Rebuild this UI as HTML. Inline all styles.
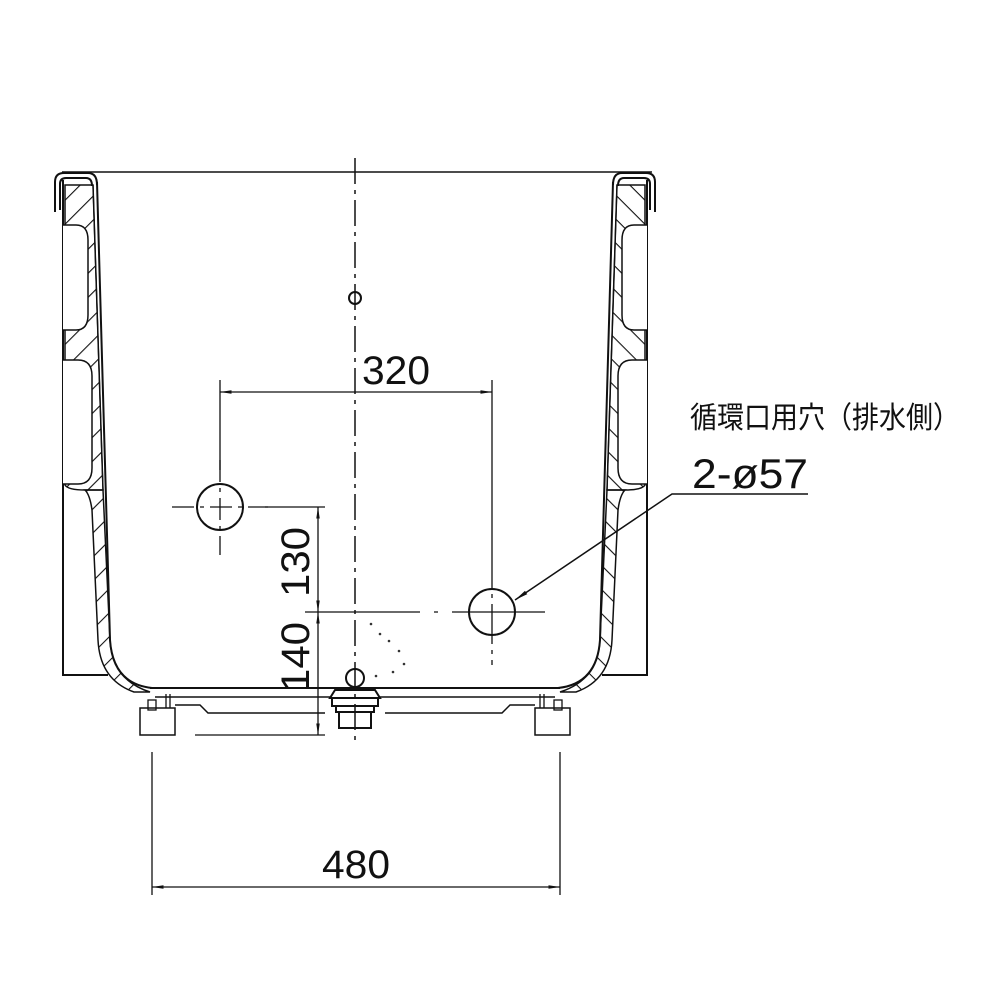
<!DOCTYPE html>
<html><head><meta charset="utf-8"><style>html,body{margin:0;padding:0;background:#fff}svg{display:block}</style></head>
<body>
<svg width="1000" height="1000" viewBox="0 0 1000 1000" xmlns="http://www.w3.org/2000/svg">
<defs>
<pattern id="h" patternUnits="userSpaceOnUse" width="17" height="17" patternTransform="rotate(45)">
<line x1="0" y1="0" x2="0" y2="17" stroke="#111" stroke-width="2.2"/>
</pattern>
<marker id="a" viewBox="0 0 10 10" refX="10" refY="5" markerWidth="9" markerHeight="9" orient="auto-start-reverse"><path d="M0,3.5 L10,5 L0,6.5 z" fill="#111"/></marker>
</defs>
<g fill="none" stroke="#111" stroke-width="2">
<line x1="62" y1="172" x2="652" y2="172" stroke-width="1.5"/>
<g id="L">
<polyline points="63,180 63,675 108,675"/>
<path d="M55,212 L55,182 Q55,173 64,173 L88,173 Q97,173 97,185"/>
<path d="M60,210 L60,184 Q60,178 66,178 L86,178 Q92,178 92,186"/>
<path d="M65,185 L93,185 L103,490 L85,490 Q68,490 65,485 Z" fill="url(#h)" stroke-width="1.5"/>
<path d="M63,225 L76,225 Q88,225 88,240 L88,315 Q88,330 76,330 L63,330 Z" fill="#fff" stroke="none"/>
<path d="M63,225 L76,225 Q88,225 88,240 L88,315 Q88,330 76,330 L63,330" stroke-width="1.5"/>
<path d="M63,360 L78,360 Q92,360 92,376 L92,468 Q92,484 78,484 L63,484 Z" fill="#fff" stroke="none"/>
<path d="M63,360 L78,360 Q92,360 92,376 L92,468 Q92,484 78,484 L63,484" stroke-width="1.5"/>
<path d="M85,490 L103,490 L110,640 Q112,680 150,692 L134,692 Q100,680 98,640 L92,510 Q90,495 85,490 Z" fill="url(#h)" stroke-width="1.5"/>
<path d="M97,182 L110,640 Q113,684 152,688"/>
<path d="M93,185 L103,490" stroke-width="1.3"/>
<rect x="140" y="708" width="35" height="27" stroke-width="1.5"/>
<rect x="148" y="700" width="8" height="10" stroke-width="1.3"/>
<line x1="166" y1="694" x2="166" y2="708" stroke-width="1.3"/>
<line x1="170" y1="694" x2="170" y2="708" stroke-width="1.3"/>
</g>
<use href="#L" transform="translate(710,0) scale(-1,1)"/>
<line x1="150" y1="688" x2="560" y2="688"/>
<line x1="155" y1="697" x2="555" y2="697" stroke-width="1.5"/>
<polyline points="175,705 200,705 208,713 325,713" stroke-width="1.5"/>
<polyline points="535,705 510,705 502,713 385,713" stroke-width="1.5"/>
<circle cx="355" cy="678" r="9"/>
<path d="M330,698 L335,690 L375,690 L380,698 Z" fill="#fff"/>
<rect x="332" y="698" width="46" height="8" fill="#fff"/>
<rect x="336" y="706" width="38" height="6"/>
<rect x="339" y="712" width="32" height="16"/>
<circle cx="355" cy="298" r="6"/>
<line x1="355" y1="158" x2="355" y2="745" stroke-width="1.5" stroke-dasharray="26,6,4,6"/>
<circle cx="220" cy="507" r="23"/>
<line x1="172" y1="507" x2="268" y2="507" stroke-width="1.3" stroke-dasharray="22,6,4,6"/>
<line x1="220" y1="460" x2="220" y2="555" stroke-width="1.3" stroke-dasharray="22,6,4,6"/>
<circle cx="492" cy="612" r="23"/>
<line x1="305" y1="612" x2="545" y2="612" stroke-width="1.3" stroke-dasharray="115,14,4,14"/>
<line x1="492" y1="548" x2="492" y2="665" stroke-width="1.3" stroke-dasharray="40,6,4,6"/>
<line x1="220" y1="380" x2="220" y2="470" stroke-width="1.3"/>
<line x1="492" y1="380" x2="492" y2="548" stroke-width="1.3"/>
<line x1="220" y1="392" x2="492" y2="392" stroke-width="1.3" marker-start="url(#a)" marker-end="url(#a)"/>
<line x1="265" y1="507" x2="325" y2="507" stroke-width="1.3"/>
<line x1="318" y1="507" x2="318" y2="612" stroke-width="1.3" marker-start="url(#a)" marker-end="url(#a)"/>
<line x1="318" y1="612" x2="318" y2="735" stroke-width="1.3" marker-start="url(#a)" marker-end="url(#a)"/>
<line x1="195" y1="735" x2="325" y2="735" stroke-width="1.3"/>
<line x1="152" y1="752" x2="152" y2="895" stroke-width="1.3"/>
<line x1="560" y1="752" x2="560" y2="895" stroke-width="1.3"/>
<line x1="152" y1="887" x2="560" y2="887" stroke-width="1.3" marker-start="url(#a)" marker-end="url(#a)"/>
<polyline points="808,494 672,494 515,600" stroke-width="1.5" marker-end="url(#a)"/>
</g>
<g fill="#333">
<circle cx="371" cy="624" r="1.3"/><circle cx="380" cy="634" r="1.3"/><circle cx="389" cy="641" r="1.3"/><circle cx="399" cy="651" r="1.3"/><circle cx="404" cy="664" r="1.3"/><circle cx="393" cy="672" r="1.3"/><circle cx="376" cy="676" r="1.3"/>
</g>
<g font-family="'Liberation Sans', 'Noto Sans CJK JP', sans-serif" fill="#111">
<text x="362" y="384" font-size="40" textLength="68" lengthAdjust="spacingAndGlyphs">320</text>
<text x="322" y="878" font-size="40" textLength="68" lengthAdjust="spacingAndGlyphs">480</text>
<text transform="translate(309,597) rotate(-90)" font-size="40" textLength="70" lengthAdjust="spacingAndGlyphs">130</text>
<text transform="translate(309,692) rotate(-90)" font-size="40" textLength="70" lengthAdjust="spacingAndGlyphs">140</text>
<text x="690" y="428" font-size="30" textLength="270" lengthAdjust="spacingAndGlyphs">循環口用穴（排水側）</text>
<text x="692" y="488" font-size="42" textLength="116" lengthAdjust="spacingAndGlyphs">2-ø57</text>
</g>
</svg>
</body></html>
